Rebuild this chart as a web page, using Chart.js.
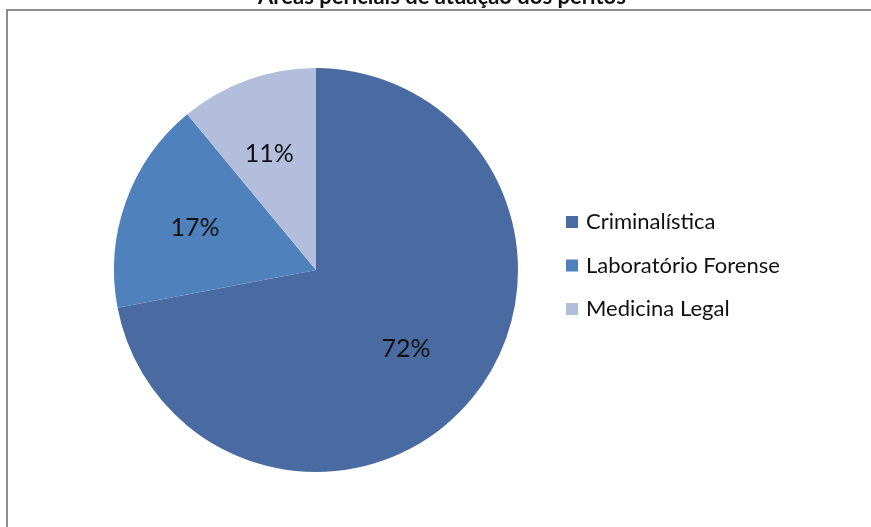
<!DOCTYPE html>
<html>
<head>
<meta charset="utf-8">
<script src="https://cdn.jsdelivr.net/npm/chart.js@4"></script>
<style>
  html, body { margin: 0; padding: 0; background: #fff; }
  #wrap { width: 871px; height: 527px; }
</style>
</head>
<body>
<div id="wrap"><canvas id="grafico" width="871" height="527"></canvas></div>
<script>
// Dados do gráfico
const categorias = ["Criminalística", "Laboratório Forense", "Medicina Legal"];
const percentuais = [72, 17, 11];
const cores = ["#4A6BA2", "#4F81BD", "#B3BEDC"];
const titulo = "Áreas periciais de atuação dos peritos";

const fonte = "Lato, 'Open Sans', sans-serif";

// Moldura, título, rótulos e legenda
const extras = {
  id: "extras",
  beforeDraw(chart) {
    const ctx = chart.ctx;
    ctx.save();
    ctx.strokeStyle = "#8e8e8e";
    ctx.lineWidth = 2;
    ctx.beginPath();
    ctx.moveTo(7, 527);
    ctx.lineTo(7, 10);
    ctx.lineTo(871, 10);
    ctx.stroke();

    ctx.fillStyle = "#111";
    ctx.font = "bold 22px " + fonte;
    ctx.textAlign = "center";
    ctx.textBaseline = "alphabetic";
    ctx.fillText(titulo, 442, 4);
    ctx.restore();
  },
  afterDatasetsDraw(chart) {
    const ctx = chart.ctx;
    const meta = chart.getDatasetMeta(0);
    ctx.save();
    ctx.font = "25px " + fonte;
    ctx.fillStyle = "#111";
    ctx.textAlign = "center";
    ctx.textBaseline = "middle";
    meta.data.forEach((arc, i) => {
      const p = arc.getProps(["x", "y", "startAngle", "endAngle", "outerRadius"], true);
      const meio = (p.startAngle + p.endAngle) / 2;
      const r = p.outerRadius * 0.61;
      ctx.fillText(percentuais[i] + "%", p.x + Math.cos(meio) * r - 5, p.y + Math.sin(meio) * r);
    });

    // legenda
    ctx.font = "22px " + fonte;
    ctx.textAlign = "left";
    categorias.forEach((nome, i) => {
      const y = 222 + i * 43.5;
      ctx.fillStyle = cores[i];
      ctx.fillRect(566, y - 6, 12, 12);
      ctx.fillStyle = "#111";
      ctx.fillText(nome, 586, y);
    });
    ctx.restore();
  }
};

new Chart(document.getElementById("grafico"), {
  type: "pie",
  data: {
    labels: categorias,
    datasets: [{
      data: percentuais,
      backgroundColor: cores,
      borderWidth: 0
    }]
  },
  options: {
    responsive: false,
    animation: false,
    layout: { padding: { top: 68, bottom: 55, left: 114, right: 353 } },
    plugins: {
      legend: { display: false },
      tooltip: { enabled: false }
    }
  },
  plugins: [extras]
});
</script>
</body>
</html>
